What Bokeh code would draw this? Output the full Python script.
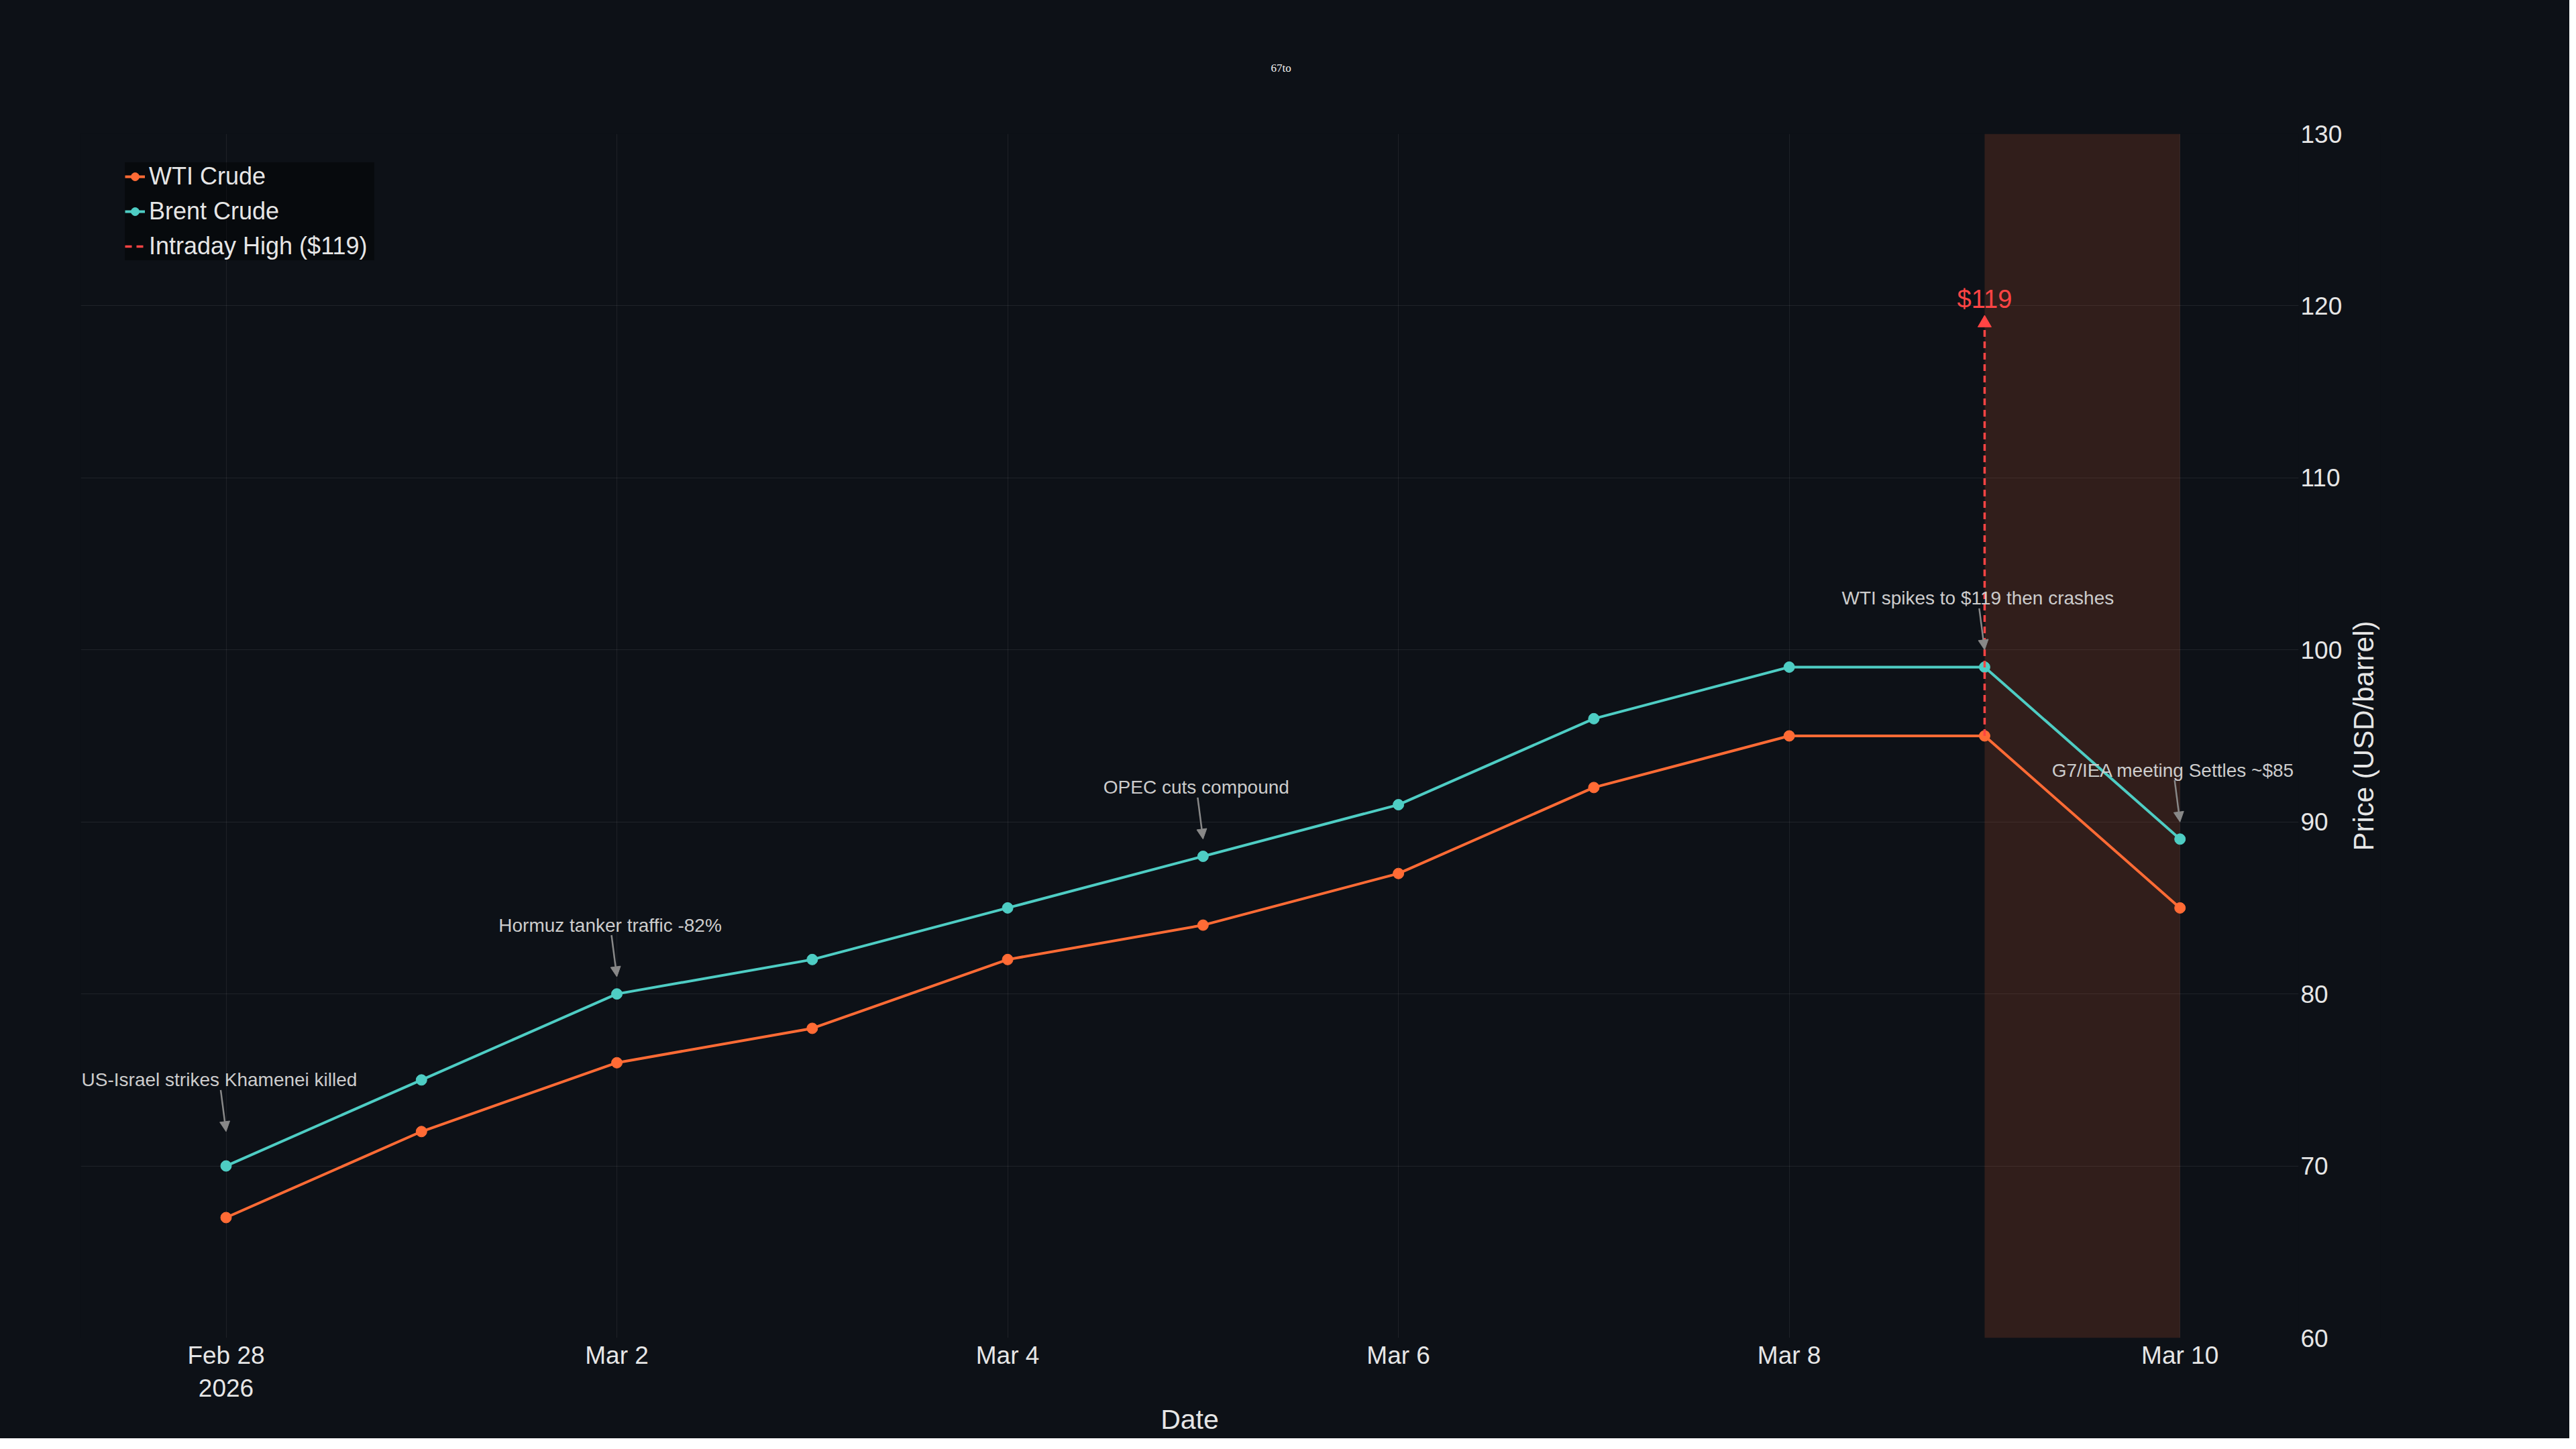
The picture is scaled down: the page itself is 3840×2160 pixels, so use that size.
from datetime import datetime, timedelta
from bokeh.plotting import figure
from bokeh.layouts import row
from bokeh.models import (Range1d, FixedTicker, DatetimeTickFormatter, Title,
                          BoxAnnotation, Arrow, NormalHead)
from bokeh.embed import file_html
from bokeh.resources import INLINE
from bokeh.core.properties import value

# ---------------- data ----------------
dates = ["2026-02-28", "2026-03-01", "2026-03-02", "2026-03-03", "2026-03-04",
         "2026-03-05", "2026-03-06", "2026-03-07", "2026-03-08", "2026-03-09",
         "2026-03-10"]
wti = [67, 72, 76, 78, 82, 84, 87, 92, 95, 95, 85]
brent = [70, 75, 80, 82, 85, 88, 91, 96, 99, 99, 89]

intraday_date = "2026-03-09"
intraday_high = 119

note_dates = ["2026-02-28", "2026-03-02", "2026-03-05", "2026-03-09", "2026-03-10"]
note_prices = [72, 81, 89, 100, 90]
note_texts = ["US-Israel strikes Khamenei killed", "Hormuz tanker traffic -82%",
              "OPEC cuts compound", "WTI spikes to $119 then crashes",
              "G7/IEA meeting Settles ~$85"]

shade_dates = ["2026-03-09", "2026-03-10"]
x_tick_dates = ["2026-02-28", "2026-03-02", "2026-03-04", "2026-03-06",
                "2026-03-08", "2026-03-10"]
y_ticks = [60, 70, 80, 90, 100, 110, 120, 130]
y_limits = [60, 130]

title_text = "67to"
x_title = "Date"
y_title = "Price (USD/barrel)"

# ---------------- style ----------------
BG = "#0d1117"
WTI_C = "#ff6b35"
BRENT_C = "#4ecdc4"
RED = "#ff4444"
GRAY = "#888888"
TXT = "#e6e6e6"
NOTE_TXT = "#cccccc"
FONT = "Liberation Sans"
PAGE_STYLE = {"background-color": BG}

TOTAL_W = 3824
FRAME_W, FRAME_H = 3306, 1795
B_LEFT, B_TOP, B_RIGHT, B_BOTTOM = 120, 199, 70, 150
# side strip that carries the rotated y-axis title
S_LEFT, S_FRAME = 44, 2
S_RIGHT = TOTAL_W - (B_LEFT + FRAME_W + B_RIGHT) - S_LEFT - S_FRAME


def d(s):
    return datetime.fromisoformat(s)


def ms(dt):
    return (dt - datetime(1970, 1, 1)).total_seconds() * 1000.0


xd = [d(s) for s in dates]
x0 = xd[0]
x_start = x0 - timedelta(days=0.7433)
x_end = x0 + timedelta(days=10.607)

px_per_ms = FRAME_W / (ms(x_end) - ms(x_start))
px_per_usd = FRAME_H / (y_limits[1] - y_limits[0])

p = figure(x_axis_type="datetime", y_axis_location="right",
           frame_width=FRAME_W, frame_height=FRAME_H,
           x_range=Range1d(x_start, x_end),
           y_range=Range1d(y_limits[0], y_limits[1]),
           output_backend="svg", toolbar_location=None,
           min_border_left=B_LEFT, min_border_top=B_TOP,
           min_border_right=B_RIGHT, min_border_bottom=B_BOTTOM,
           background_fill_color=BG, border_fill_color=None,
           outline_line_color=None)
p.styles = PAGE_STYLE

# title
ttl = Title(text=title_text, align="left", offset=1774,
            text_font="Liberation Serif", text_font_size="17px",
            text_font_style="normal", text_color="#f0f0f0")
if "standoff" in ttl.properties():
    ttl.standoff = 177
p.title = ttl

# grids
tick_ms = [ms(d(s)) for s in x_tick_dates]
p.xgrid.ticker = FixedTicker(ticks=tick_ms)
p.ygrid.ticker = FixedTicker(ticks=y_ticks[1:-1])
p.xgrid.grid_line_color = "#ffffff"
p.xgrid.grid_line_alpha = 0.07
p.ygrid.grid_line_color = "#ffffff"
p.ygrid.grid_line_alpha = 0.08

# axes
xa = p.xaxis[0]
xa.ticker = FixedTicker(ticks=tick_ms)
xa.formatter = DatetimeTickFormatter(days="%b %-d",
                                     context=DatetimeTickFormatter(days="%Y"),
                                     context_which="start",
                                     context_location="below")
ya = p.yaxis[0]
ya.ticker = FixedTicker(ticks=y_ticks)
for ax in (xa, ya):
    ax.axis_line_color = None
    ax.major_tick_line_color = None
    ax.minor_tick_line_color = None
    ax.major_tick_out = 0
    ax.major_tick_in = 0
    ax.major_label_text_font = FONT
    ax.major_label_text_font_size = "37px"
    ax.major_label_text_color = TXT
    ax.axis_label_text_font = FONT
    ax.axis_label_text_font_style = "normal"
    ax.axis_label_text_color = TXT
xa.major_label_standoff = 5
ya.major_label_standoff = 3
xa.axis_label = x_title
xa.axis_label_text_font_size = "41px"
xa.axis_label_standoff = 0

# shaded crash window
p.add_layout(BoxAnnotation(left=d(shade_dates[0]), right=d(shade_dates[1]),
                           fill_color=WTI_C, fill_alpha=0.15, line_color=None,
                           level="underlay"))

# series
p.line(xd, wti, line_color=WTI_C, line_width=4, legend_label="WTI Crude")
p.scatter(xd, wti, size=16, fill_color=WTI_C, line_color=WTI_C, legend_label="WTI Crude")
p.line(xd, brent, line_color=BRENT_C, line_width=4, legend_label="Brent Crude")
p.scatter(xd, brent, size=16, fill_color=BRENT_C, line_color=BRENT_C, legend_label="Brent Crude")

# intraday high
ix = d(intraday_date)
i_base = wti[dates.index(intraday_date)]
p.line([ix, ix], [i_base, intraday_high], line_color=RED, line_width=3.5,
       line_dash="10 7", legend_label="Intraday High ($119)")
p.scatter([ix], [intraday_high], marker="triangle", size=20,
          fill_color=RED, line_color=RED)
p.text([ix], [intraday_high], text=["$119"], y_offset=-36,
       text_align="center", text_baseline="middle",
       text_font=value(FONT), text_font_size="38px", text_color=RED)

# event annotations
nx = [d(s) for s in note_dates]
p.text(nx, note_prices, text=note_texts, x_offset=-10, y_offset=-77,
       text_align="center", text_baseline="middle",
       text_font=value(FONT), text_font_size="28px", text_color=NOTE_TXT)
for xx, yy in zip(nx, note_prices):
    xm = ms(xx)
    p.add_layout(Arrow(end=NormalHead(size=15, fill_color=GRAY, line_color=GRAY, line_width=1),
                       x_start=xm - 8 / px_per_ms, y_start=yy + 62 / px_per_usd,
                       x_end=xm, y_end=yy,
                       line_color=GRAY, line_width=2.5))

# legend
lg = p.legend[0]
lg.location = (66, 1606)
lg.margin = 0
lg.padding = 9
lg.spacing = 10
lg.glyph_width = 30
lg.glyph_height = 40
lg.label_height = 40
lg.label_width = 336
lg.label_standoff = 6
lg.label_text_font = FONT
lg.label_text_font_size = "36px"
lg.label_text_color = TXT
lg.background_fill_color = "#000000"
lg.background_fill_alpha = 0.4
lg.border_line_color = None

# side strip: y-axis title reading bottom-to-top, right of the tick labels
s = figure(frame_width=S_FRAME, frame_height=FRAME_H,
           x_range=Range1d(0, 1), y_range=Range1d(y_limits[0], y_limits[1]),
           x_axis_location=None, y_axis_location="left",
           output_backend="svg", toolbar_location=None,
           min_border_left=S_LEFT, min_border_right=S_RIGHT,
           min_border_top=B_TOP, min_border_bottom=B_BOTTOM,
           background_fill_color=BG, border_fill_color=None,
           outline_line_color=None)
s.styles = PAGE_STYLE
s.grid.visible = False
sa = s.yaxis[0]
sa.ticker = FixedTicker(ticks=[])
sa.axis_line_color = None
sa.major_tick_line_color = None
sa.minor_tick_line_color = None
sa.major_label_text_font_size = "1px"
sa.major_label_standoff = 0
sa.axis_label = y_title
sa.axis_label_text_font = FONT
sa.axis_label_text_font_style = "normal"
sa.axis_label_text_font_size = "42px"
sa.axis_label_text_color = TXT
sa.axis_label_standoff = 0

layout = row(p, s, spacing=0)
layout.styles = PAGE_STYLE
open("out.html", "w").write(file_html(layout, INLINE))
